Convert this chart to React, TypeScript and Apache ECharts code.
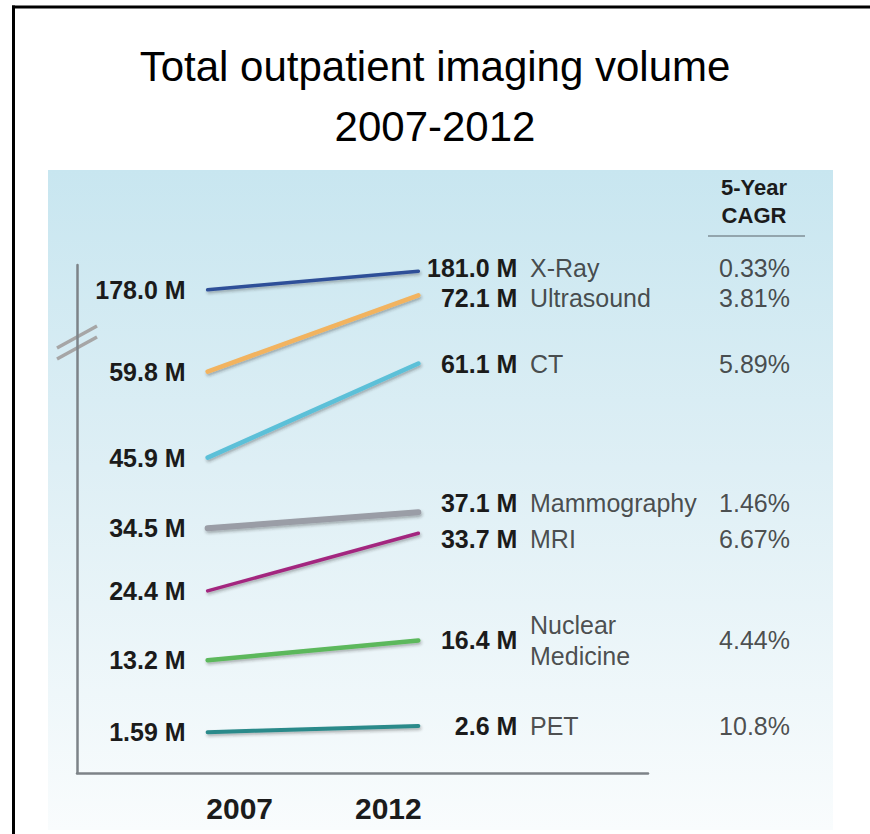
import React, { useEffect, useRef } from 'react';
import * as echarts from 'echarts';

// ---- data ----
const years = [2007, 2012];
const modalities = ['X-Ray', 'Ultrasound', 'CT', 'Mammography', 'MRI', 'Nuclear\nMedicine', 'PET'];
const volume2007 = [178.0, 59.8, 45.9, 34.5, 24.4, 13.2, 1.59]; // millions
const volume2012 = [181.0, 72.1, 61.1, 37.1, 33.7, 16.4, 2.6]; // millions
const cagr5y = [0.33, 3.81, 5.89, 1.46, 6.67, 4.44, 10.8]; // percent
// which side of the broken value axis a series belongs to
const axisSegment = ['upper', 'lower', 'lower', 'lower', 'lower', 'lower', 'lower'];
const lowerRange = [-5, 77];
const upperRange = [100, 182];

// ---- styles ----
const lineColors = ['#2f4f98', '#f2b35e', '#5bc0d8', '#9a9da6', '#a3287f', '#5cb85c', '#2a8a8a'];
const lineWidths = [3.5, 4.5, 4.5, 6, 3.5, 4.5, 4];
// small vertical nudges (px) of the right-hand label row so that rows do not collide
const rowNudge = [-3, 3, 0, -9, 6, 0, 0];
const FONT = '"Liberation Sans", Arial, Helvetica, sans-serif';
const TEXT = '#1b1b1b';

const fmtM = (v: number) => {
  const d = (String(v).split('.')[1] || '').length;
  return v.toFixed(Math.max(1, d)) + ' M';
};

function buildOption(): any {
  const series: any[] = [];
  modalities.forEach((name, i) => {
    const upper = axisSegment[i] === 'upper';
    series.push({
      type: 'line',
      name,
      xAxisIndex: 0,
      yAxisIndex: upper ? 1 : 0,
      symbol: 'circle',
      symbolSize: 0,
      showSymbol: true,
      silent: true,
      z: 3,
      itemStyle: { color: lineColors[i] },
      lineStyle: {
        color: lineColors[i],
        width: lineWidths[i],
        cap: 'round',
        shadowColor: 'rgba(40,40,40,0.35)',
        shadowBlur: 3,
        shadowOffsetX: 1,
        shadowOffsetY: 2,
      },
      label: {
        show: true,
        formatter: (p: any) => fmtM(p.value[1]),
        fontFamily: FONT,
        fontSize: 25,
        fontWeight: 'bold',
        color: TEXT,
        lineHeight: 22,
      },
      emphasis: { disabled: true },
      data: [
        { value: [years[0], volume2007[i]], label: { position: 'left', distance: 22, align: 'right' } },
        {
          value: [years[1], volume2012[i]],
          label: { position: 'right', distance: 99, align: 'right', offset: [0, rowNudge[i]] },
        },
      ],
    });
    series.push({
      type: 'scatter',
      xAxisIndex: 1,
      yAxisIndex: upper ? 3 : 2,
      symbol: 'circle',
      symbolSize: 0,
      clip: false,
      silent: true,
      itemStyle: { color: 'rgba(0,0,0,0)' },
      label: {
        show: true,
        fontFamily: FONT,
        fontSize: 25,
        color: '#222',
        lineHeight: name.includes('\n') ? 31 : 22,
        offset: [0, rowNudge[i]],
      },
      emphasis: { disabled: true },
      data: [
        { value: [0, volume2012[i]], label: { formatter: name, position: 'right', distance: 0, align: 'left' } },
        {
          value: [1, volume2012[i]],
          label: { formatter: cagr5y[i] + '%', position: 'left', distance: 0, align: 'right', lineHeight: 22 },
        },
      ],
    });
  });

  const axisGray = '#7d8388';
  return {
    animation: false,
    title: {
      text: 'Total outpatient imaging volume\n2007-2012',
      left: 'center',
      top: 31,
      textStyle: { fontFamily: FONT, fontSize: 42, fontWeight: 'normal', color: '#000', lineHeight: 60 },
    },
    grid: [
      { left: 77, right: 222, top: 265, bottom: 61 },
      { left: 530, right: 80, top: 265, bottom: 61 },
    ],
    xAxis: [
      {
        type: 'value',
        gridIndex: 0,
        min: 2003.9,
        max: 2017.45,
        axisLine: { show: true, onZero: false, lineStyle: { color: axisGray, width: 2.5 } },
        axisTick: { show: false },
        splitLine: { show: false },
        axisLabel: {
          customValues: years,
          margin: 20,
          formatter: (v: number) => (v === years[0] ? '{l|' + v + '}' : '{r|' + v + '}'),
          rich: {
            l: { fontFamily: FONT, fontSize: 30, fontWeight: 'bold', color: TEXT, padding: [0, 0, 0, 64] },
            r: { fontFamily: FONT, fontSize: 30, fontWeight: 'bold', color: TEXT, padding: [0, 60, 0, 0] },
          },
        },
      },
      { type: 'value', gridIndex: 1, min: 0, max: 1, show: false },
    ],
    yAxis: [
      {
        type: 'value',
        gridIndex: 0,
        min: lowerRange[0],
        max: lowerRange[1],
        axisLine: { show: true, onZero: false, lineStyle: { color: axisGray, width: 2.5 } },
        axisTick: { show: false },
        axisLabel: { show: false },
        splitLine: { show: false },
      },
      { type: 'value', gridIndex: 0, min: upperRange[0], max: upperRange[1], show: false, splitLine: { show: false } },
      { type: 'value', gridIndex: 1, min: lowerRange[0], max: lowerRange[1], show: false, splitLine: { show: false } },
      { type: 'value', gridIndex: 1, min: upperRange[0], max: upperRange[1], show: false, splitLine: { show: false } },
    ],
    graphic: [
      {
        type: 'rect',
        silent: true,
        z: -100,
        shape: { x: 48, y: 170, width: 785, height: 660 },
        style: {
          fill: {
            type: 'linear', x: 0, y: 0, x2: 0, y2: 1,
            colorStops: [
              { offset: 0, color: '#c8e6f0' },
              { offset: 0.45, color: '#deeff5' },
              { offset: 1, color: '#f9fcfd' },
            ],
          },
        },
      },
      {
        type: 'line', silent: true,
        shape: { x1: 13.5, y1: 5.5, x2: 13.5, y2: 840 },
        style: { stroke: '#000', lineWidth: 3 },
      },
      {
        type: 'line', silent: true,
        shape: { x1: 12, y1: 7, x2: 880, y2: 7 },
        style: { stroke: '#000', lineWidth: 3 },
      },
      {
        type: 'line', silent: true,
        shape: { x1: 57, y1: 348, x2: 97, y2: 326 },
        style: { stroke: '#a6a6a6', lineWidth: 3.5 },
      },
      {
        type: 'line', silent: true,
        shape: { x1: 57, y1: 359, x2: 97, y2: 337 },
        style: { stroke: '#a6a6a6', lineWidth: 3.5 },
      },
      {
        type: 'text', silent: true,
        x: 754, y: 201,
        style: {
          text: '5-Year\nCAGR',
          fontFamily: FONT, fontSize: 22, fontWeight: 'bold', fill: TEXT,
          lineHeight: 28, align: 'center', verticalAlign: 'middle',
        },
      },
      {
        type: 'line', silent: true,
        shape: { x1: 708, y1: 236, x2: 805, y2: 236 },
        style: { stroke: '#7f8f96', lineWidth: 1.5 },
      },
    ],
    series,
  };
}

export default function App() {
  const ref = useRef<HTMLDivElement>(null);
  useEffect(() => {
    if (!ref.current) return;
    const chart = echarts.init(ref.current, undefined, { renderer: 'svg' });
    chart.setOption(buildOption());
    return () => chart.dispose();
  }, []);
  return (
    <div
      ref={ref}
      style={{ position: 'fixed', left: 0, top: 0, width: 870, height: 834, background: '#fff' }}
    />
  );
}
